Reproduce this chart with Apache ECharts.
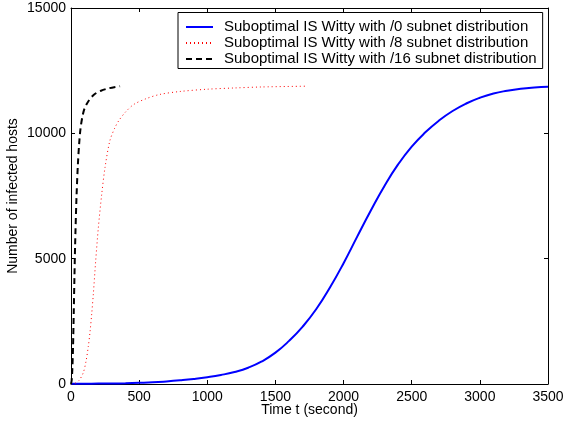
<!DOCTYPE html>
<html>
<head>
<meta charset="utf-8">
<script src="https://cdn.jsdelivr.net/npm/echarts@6/dist/echarts.min.js"></script>
<style>html,body{margin:0;padding:0;background:#fff;}#c{width:566px;height:423px;}</style>
</head>
<body>
<div id="c"></div>
<script>
const seriesNames = [
  "Suboptimal IS Witty with /0 subnet distribution",
  "Suboptimal IS Witty with /8 subnet distribution",
  "Suboptimal IS Witty with /16 subnet distribution"
];
const xTicks = [0, 500, 1000, 1500, 2000, 2500, 3000, 3500];
const yTicks = [0, 5000, 10000, 15000];

const blueT = [0, 100, 200, 300, 400, 500, 600, 700, 800, 900, 1000, 1100, 1200, 1300, 1400, 1500, 1600, 1700, 1800, 1900, 2000, 2100, 2200, 2300, 2400, 2500, 2600, 2700, 2800, 2900, 3000, 3100, 3200, 3300, 3400, 3500];
const blueV = [8, 11, 15, 21, 30, 45, 65, 100, 145, 200, 270, 360, 480, 650, 900, 1250, 1720, 2290, 2990, 3850, 4820, 5880, 6920, 7900, 8760, 9470, 10040, 10510, 10890, 11190, 11420, 11590, 11700, 11780, 11830, 11860];

const redT = [0, 30, 60, 90, 110, 127, 140, 152, 164, 181, 200, 225, 250, 285, 320, 350, 400, 460, 550, 650, 800, 1000, 1200, 1400, 1720];
const redV = [0, 30, 150, 450, 900, 1500, 2100, 2800, 3600, 4900, 6200, 7550, 8650, 9700, 10200, 10500, 10850, 11150, 11380, 11550, 11670, 11760, 11810, 11850, 11880];

const blackT = [0, 5, 10, 15, 20, 25, 30, 40, 50, 60, 70, 85, 100, 130, 170, 220, 280, 360];
const blackV = [0, 150, 600, 1500, 2800, 4200, 5500, 7400, 8700, 9600, 10200, 10700, 11000, 11300, 11550, 11700, 11800, 11880];

const zip = (a, b) => a.map((x, i) => [x, b[i]]);

const font = 'Liberation Sans, Arial, Helvetica, sans-serif';
const chart = echarts.init(document.getElementById('c'), null, {renderer: 'canvas'});

const plain = v => String(v);
const baseX = {
  type: 'value', min: xTicks[0], max: xTicks[xTicks.length - 1], interval: 500,
  axisLine: {show: true, onZero: false, lineStyle: {color: '#000', width: 1}},
  axisTick: {show: true, inside: true, length: 4, lineStyle: {color: '#000'}},
  splitLine: {show: false}
};
const baseY = {
  type: 'value', min: yTicks[0], max: yTicks[yTicks.length - 1], interval: 5000,
  axisLine: {show: true, onZero: false, lineStyle: {color: '#000', width: 1}},
  axisTick: {show: true, inside: true, length: 4, lineStyle: {color: '#000'}},
  splitLine: {show: false}
};

chart.setOption({
  animation: false,
  backgroundColor: '#fff',
  grid: {left: 71, right: 18, top: 8, bottom: 39, containLabel: false, outerBoundsMode: 'none'},
  legend: {
    orient: 'vertical',
    left: 178, top: 12.5,
    backgroundColor: '#fff',
    borderColor: '#000', borderWidth: 1,
    padding: [7, 6, 2, 7],
    itemWidth: 27, itemHeight: 14, itemGap: 1,
    itemStyle: {opacity: 0},
    textStyle: {fontFamily: font, fontSize: 15, lineHeight: 15, color: '#000', padding: [0, 0, 0, 6]},
    data: seriesNames
  },
  xAxis: [
    Object.assign({}, baseX, {
      position: 'bottom',
      name: 'Time t (second)', nameLocation: 'middle', nameGap: 19, nameMoveOverlap: false,
      nameTextStyle: {fontFamily: font, fontSize: 14, color: '#000'},
      axisLabel: {fontFamily: font, fontSize: 14, color: '#000', margin: 6, formatter: plain}
    }),
    Object.assign({}, baseX, {position: 'top', axisLabel: {show: false}})
  ],
  yAxis: [
    Object.assign({}, baseY, {
      position: 'left',
      name: 'Number of infected hosts', nameLocation: 'middle', nameGap: 51, nameMoveOverlap: false,
      nameTextStyle: {fontFamily: font, fontSize: 14, color: '#000'},
      axisLabel: {fontFamily: font, fontSize: 14, color: '#000', margin: 5, formatter: plain}
    }),
    Object.assign({}, baseY, {position: 'right', axisLabel: {show: false}})
  ],
  series: [
    {
      name: seriesNames[0], type: 'line', xAxisIndex: 0, yAxisIndex: 0,
      data: zip(blueT, blueV), smooth: 0.5, showSymbol: false, symbol: 'none',
      lineStyle: {color: '#0000ff', width: 2, type: 'solid'},
      itemStyle: {color: '#0000ff'}
    },
    {
      name: seriesNames[1], type: 'line', xAxisIndex: 0, yAxisIndex: 0,
      data: zip(redT, redV), smooth: 0.3, showSymbol: false, symbol: 'none',
      lineStyle: {color: '#ff0000', width: 1, type: [1, 3]},
      itemStyle: {color: '#ff0000'}
    },
    {
      name: seriesNames[2], type: 'line', xAxisIndex: 0, yAxisIndex: 0,
      data: zip(blackT, blackV), smooth: 0.3, showSymbol: false, symbol: 'none',
      lineStyle: {color: '#000000', width: 2, type: [6, 4]},
      itemStyle: {color: '#000000'}
    }
  ]
});
</script>
</body>
</html>
